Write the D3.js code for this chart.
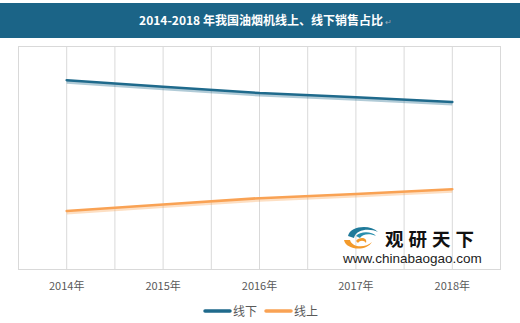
<!DOCTYPE html>
<html><head><meta charset="utf-8">
<script src="https://cdn.jsdelivr.net/npm/d3@7"></script>
<style>body{margin:0;background:#fff;}svg{display:block;font-family:"Microsoft YaHei","Noto Sans CJK SC",sans-serif;}</style>
</head><body>
<svg id="c" width="520" height="323"></svg>
<script>
const years = ["2014年","2015年","2016年","2017年","2018年"];
const offline = [76.4, 73.8, 71.2, 69.5, 67.6];
const online = [23.6, 26.2, 28.8, 30.5, 32.4];
const seriesNames = ["线下","线上"];
const seriesColors = ["#1f6a8c","#f9a254"];
const titleText = "2014-2018 年我国油烟机线上、线下销售占比";

(function(){
const svg = d3.select("#c");
// title bar
svg.append("rect").attr("x",0).attr("y",3).attr("width",520).attr("height",35).attr("fill","#1b6487");
svg.append("text").attr("x",261).attr("y",25).attr("text-anchor","middle")
  .attr("fill","#fff").attr("font-size",12).attr("font-weight","bold").text(titleText);
svg.append("text").attr("x",385).attr("y",25).attr("fill","#9ab").attr("font-size",8).text("↵");

const pL=18.5, pR=500.5, pT=46.5, pB=269.5;
const x = d3.scaleBand().domain(years).range([pL,pR]);
const y = d3.scaleLinear().domain([0,90]).range([pB,pT]);
const g = svg.append("g");
const gl = [];
years.forEach((d)=>{gl.push(x(d)); gl.push(x(d)+x.bandwidth()/2);});
gl.push(pR);
g.selectAll("line.grid").data(gl).enter().append("line")
  .attr("x1",d=>d).attr("x2",d=>d).attr("y1",pT).attr("y2",pB)
  .attr("stroke","#d9d9d9").attr("stroke-width",1);
g.append("rect").attr("x",pL).attr("y",pT).attr("width",pR-pL).attr("height",pB-pT)
  .attr("fill","none").attr("stroke","#d9d9d9");

// watermark
const wm = svg.append("g");
wm.append("path").attr("d","M348,236 C350,226 370,224 378,232 C370,228 356,229 354,238 Z").attr("fill","#1f7a9a");
wm.append("path").attr("d","M356,236 C360,231 372,231 376,236 C370,233 362,234 360,238 Z").attr("fill","#2a8fae");
wm.append("path").attr("d","M344,240 C346,250 366,252 372,242 C366,248 352,248 350,240 Z").attr("fill","#f39a2b");
wm.append("path").attr("d","M356,241 C360,236 368,238 366,243 C364,240 360,240 358,243 Z").attr("fill","#f39a2b");
wm.append("text").attr("x",385).attr("y",246).attr("font-size",18.5).attr("font-weight","bold").attr("fill","#111")
  .attr("letter-spacing",5).text("观研天下");
wm.append("text").attr("x",343).attr("y",262.5).attr("font-size",13.5).attr("fill","#222")
  .attr("font-family","Arial,'Liberation Sans',sans-serif").text("www.chinabaogao.com");

// x labels
svg.selectAll("text.xl").data(years).enter().append("text")
  .attr("x",d=>x(d)+x.bandwidth()/2).attr("y",290).attr("text-anchor","middle")
  .attr("font-size",11).attr("fill","#595959").text(d=>d);

// lines
const line = d3.line().x((d,i)=>x(years[i])+x.bandwidth()/2).y(d=>y(d));
[offline, online].forEach((s,k)=>{
  svg.append("path").attr("d",line(s)).attr("fill","none").attr("stroke",seriesColors[k])
    .attr("stroke-opacity",0.35).attr("stroke-width",4).attr("transform","translate(0,1.5)");
  svg.append("path").attr("d",line(s)).attr("fill","none").attr("stroke",seriesColors[k])
    .attr("stroke-width",2.5).attr("stroke-linecap","round");
});

// legend
const lg = svg.append("g");
[[205,233],[266,294]].forEach((p,k)=>{
  lg.append("line").attr("x1",p[0]).attr("x2",p[0]+25).attr("y1",311).attr("y2",311)
    .attr("stroke",seriesColors[k]).attr("stroke-width",3.5).attr("stroke-linecap","round");
  lg.append("text").attr("x",p[1]).attr("y",316).attr("font-size",12).attr("fill","#595959").text(seriesNames[k]);
});
})();
</script>
</body></html>
